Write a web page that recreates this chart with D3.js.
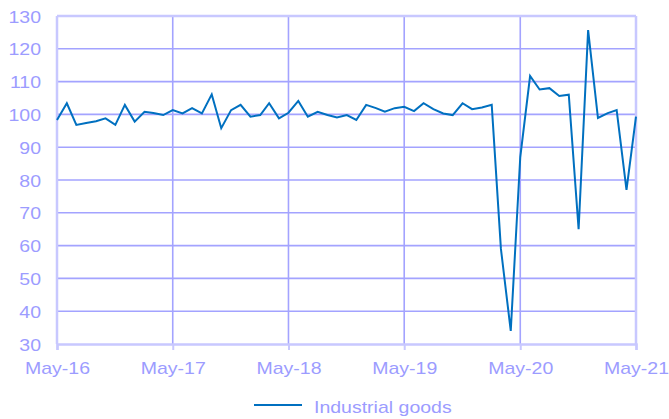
<!DOCTYPE html>
<html>
<head>
<meta charset="utf-8">
<script src="https://cdn.jsdelivr.net/npm/d3@7"></script>
<style>
  html, body { margin: 0; padding: 0; background: #ffffff; }
  svg { display: block; }
  text { font-family: "Liberation Sans", Arial, sans-serif; }
</style>
</head>
<body>
<svg id="chart" width="669" height="419"></svg>
<script>
// ---- data ----
const startMonth = "2016-05";
const seriesName = "Industrial goods";
const values = [
  98.3, 103.4, 96.8, 97.4, 97.9, 98.8, 96.8, 102.9, 97.8, 100.8, 100.4, 99.8,
  101.3, 100.3, 101.9, 100.3, 106.1, 95.8, 101.3, 102.9, 99.3, 99.8, 103.4, 98.8,
  100.5, 104.1, 99.3, 100.8, 99.8, 99.1, 99.8, 98.3, 102.9, 101.9, 100.8, 101.9,
  102.3, 101.0, 103.4, 101.6, 100.3, 99.8, 103.4, 101.6, 102.1, 102.9, 59.0, 34.0,
  87.0, 111.7, 107.6, 108.0, 105.6, 106.0, 65.0, 125.7, 98.9, 100.4, 101.3, 77.0,
  99.3
];
const xTickLabels = ["May-16", "May-17", "May-18", "May-19", "May-20", "May-21"];
const yTicks = [30, 40, 50, 60, 70, 80, 90, 100, 110, 120, 130];

// ---- build ----
(function () {
const parseM = d3.timeParse("%Y-%m");
const start = parseM(startMonth);
const data = values.map((v, i) => ({ date: d3.timeMonth.offset(start, i), value: v }));
const xTickDates = xTickLabels.map((_, i) => d3.timeYear.offset(start, i));

const svg = d3.select("#chart");
const mLeft = 57, mRight = 636, mTop = 16, mBottom = 344;

const x = d3.scaleTime().domain([start, d3.timeYear.offset(start, 5)]).range([mLeft, mRight]);
const y = d3.scaleLinear().domain([30, 130]).range([mBottom, mTop]);

const gridColor = "#a3a3ff";
const borderColor = "#c8c8ff";
const textColor = "#9c9cff";
const sx = 1.22;

// horizontal gridlines
svg.append("g").selectAll("line").data(yTicks.filter(t => t > 30 && t < 130)).join("line")
  .attr("x1", mLeft).attr("x2", mRight)
  .attr("y1", d => y(d)).attr("y2", d => y(d))
  .attr("stroke", gridColor).attr("stroke-width", 1.6);

// vertical gridlines
svg.append("g").selectAll("line").data(xTickDates.slice(1, -1)).join("line")
  .attr("x1", d => x(d)).attr("x2", d => x(d))
  .attr("y1", mTop).attr("y2", mBottom)
  .attr("stroke", gridColor).attr("stroke-width", 1.6);

// border
svg.append("line").attr("x1", mLeft).attr("x2", mRight).attr("y1", mTop).attr("y2", mTop)
  .attr("stroke", borderColor).attr("stroke-width", 2.5);
svg.append("line").attr("x1", mLeft).attr("x2", mLeft).attr("y1", mTop).attr("y2", mBottom)
  .attr("stroke", borderColor).attr("stroke-width", 2.5);
svg.append("line").attr("x1", mRight).attr("x2", mRight).attr("y1", mTop).attr("y2", mBottom)
  .attr("stroke", borderColor).attr("stroke-width", 2.5);

// x axis
const xAxis = d3.axisBottom(x).tickValues(xTickDates).tickFormat((d, i) => xTickLabels[i])
  .tickSize(6).tickPadding(0);
const gx = svg.append("g").attr("transform", `translate(0,${mBottom})`).call(xAxis);
gx.select(".domain").attr("stroke", borderColor).attr("stroke-width", 2.5);
gx.selectAll(".tick line").attr("stroke", borderColor).attr("stroke-width", 2);
gx.selectAll(".tick text").each(function() {
  d3.select(this).attr("y", null).attr("dy", null)
   .attr("transform", `translate(0,30) scale(${sx},1)`)
   .attr("fill", textColor).attr("font-size", 16)
   .attr("font-family", "Liberation Sans, Arial, sans-serif");
});

// y axis labels
const yAxis = d3.axisLeft(y).tickValues(yTicks).tickSize(0).tickPadding(0);
const gy = svg.append("g").attr("transform", `translate(41,0)`).call(yAxis);
gy.select(".domain").remove();
gy.selectAll(".tick text").each(function() {
  d3.select(this).attr("x", null).attr("dy", null)
    .attr("transform", `translate(0,6) scale(${sx},1)`)
    .attr("fill", textColor).attr("font-size", 16)
    .attr("font-family", "Liberation Sans, Arial, sans-serif");
});

// line
const line = d3.line().x(d => x(d.date)).y(d => y(d.value));
svg.append("path").datum(data)
  .attr("d", line).attr("fill", "none")
  .attr("stroke", "#0070c0").attr("stroke-width", 2).attr("stroke-linejoin", "miter");

// legend
const lg = svg.append("g");
lg.append("line").attr("x1", 254).attr("x2", 302).attr("y1", 405).attr("y2", 405)
  .attr("stroke", "#0070c0").attr("stroke-width", 2);
lg.append("text").text(seriesName)
  .attr("transform", `translate(314,413) scale(${sx},1)`)
  .attr("fill", textColor).attr("font-size", 16);
})();
</script>
</body>
</html>
